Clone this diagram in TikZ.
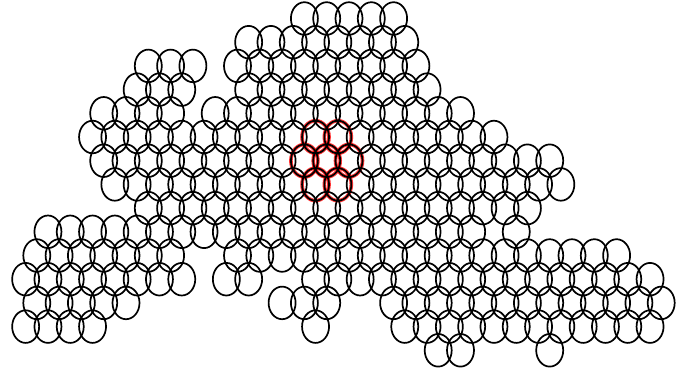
\documentclass[tikz,border=0pt]{standalone}
\usepackage{tikz}
\tikzset{
  pixel/.style={draw=black,line width=1.7pt},
  hitpixel/.style={draw=red,line width=3.6pt,opacity=0.8},
}
\newcommand{\pixcenter}[2]{%
  \pgfmathsetmacro{\cellx}{14.5+22.3*(#2+0.5*mod(#1,2))}%
  \pgfmathsetmacro{\celly}{18.5+23.7*#1}}

\begin{document}
\begin{tikzpicture}[x=1pt,y=-1pt]
\useasboundingbox (0,0) rectangle (695,376);

\foreach \r/\c in {5/13,5/14,6/13,6/14,6/15,7/13,7/14}{
  \pixcenter{\r}{\c}
  \draw[hitpixel] (\cellx,\celly) ellipse [x radius=13.5pt,y radius=16.3pt];
}

\foreach \r/\a/\b in {0/13/17,1/10/17,2/6/8,2/10/18,3/5/7,3/10/18,
    4/4/7,4/9/20,5/3/21,6/4/24,7/4/24,8/6/23,9/1/20,9/22/22,
    10/1/7,10/10/27,11/0/7,11/9/10,11/13/28,12/1/5,12/12/14,12/17/29,
    13/0/3,13/13/13,13/17/28,14/19/20,14/24/24}{
  \foreach \c in {\a,...,\b}{
    \pixcenter{\r}{\c}
    \draw[pixel] (\cellx,\celly) ellipse [x radius=13.5pt,y radius=16.3pt];
  }
}

\end{tikzpicture}
\end{document}
